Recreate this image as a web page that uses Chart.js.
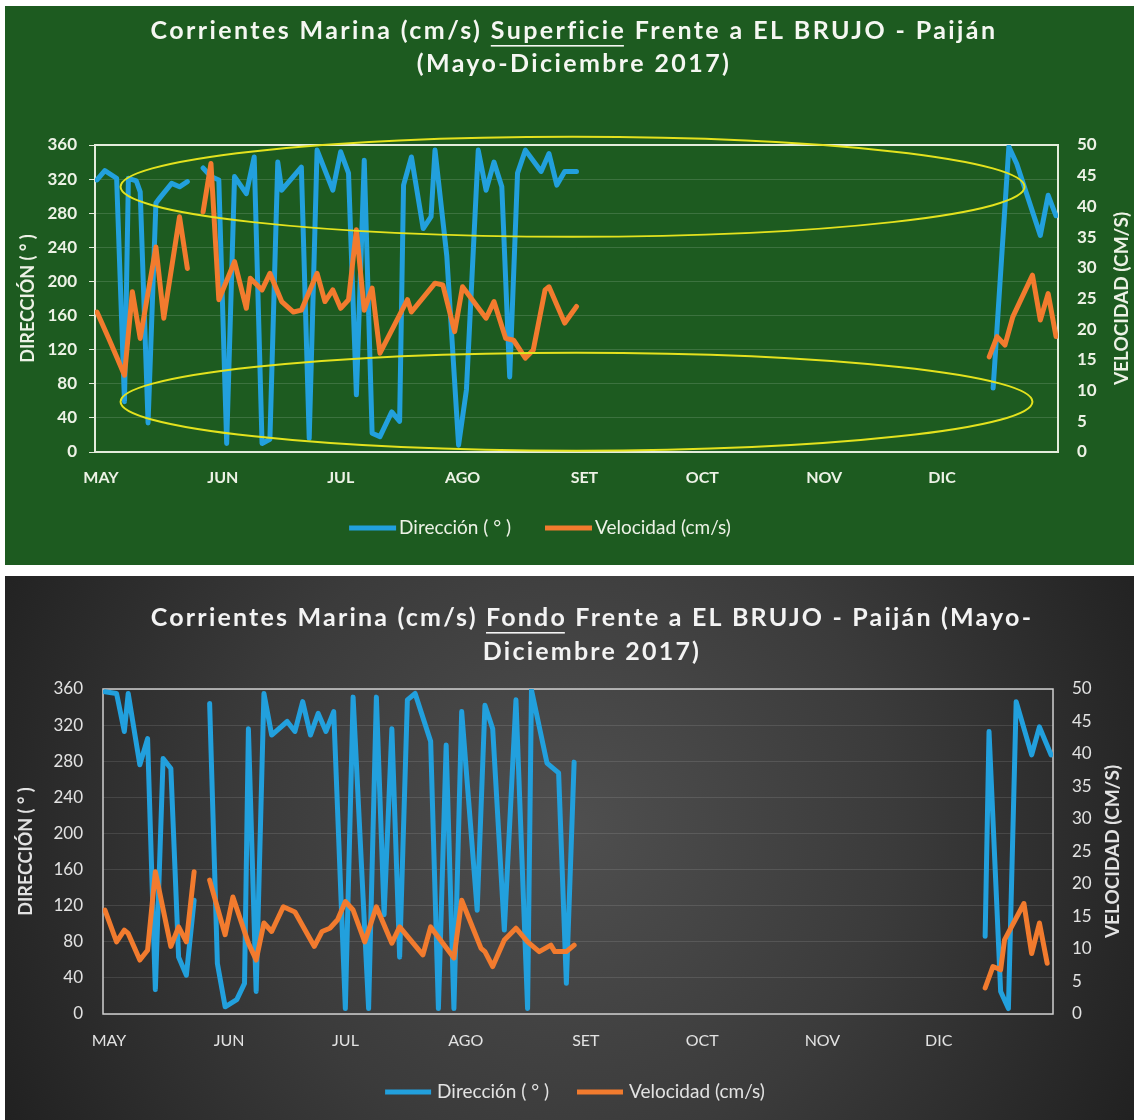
<!DOCTYPE html>
<html>
<head>
<meta charset="utf-8">
<script src="https://cdn.jsdelivr.net/npm/chart.js@4.4.1/dist/chart.umd.min.js"></script>
<style>
  html, body { margin: 0; padding: 0; background: #ffffff; }
  body { width: 1134px; height: 1120px; position: relative; overflow: hidden; }
  .panel { position: absolute; left: 5px; }
  #panelTop { top: 6px; }
  #panelBottom { top: 576px; }
  canvas { display: block; }
</style>
</head>
<body>
<div class="panel" id="panelTop"><canvas id="chartSurface" width="1129" height="559"></canvas></div>
<div class="panel" id="panelBottom"><canvas id="chartBottom" width="1129" height="544"></canvas></div>
<script>
// Month axis: day 0 = 1 May 2017
const months = ['MAY', 'JUN', 'JUL', 'AGO', 'SET', 'OCT', 'NOV', 'DIC'];
const monthStartDays = [0, 31, 61, 92, 123, 153, 184, 214];

// Surface currents (Superficie) — direction in degrees
const surfDirDays = [0,2,5,7,8,10,11,13,15,16,19,21,23, 25,
  27,29,31,33,35,38,40,42,44,46,47,52,54,56,60,62,64,66,68,70,72,75,77,78,80,83,85,86,89,92,94,97,99,101,103,105,107,109,113,115,117,119,122,
  200, 228,232,234,240,242,244];
const surfDirVals = [319,330,321,59,321,318,305,34,292,298,315,311,317, null,
  333,323,319,10,323,303,346,10,15,340,307,334,16,354,307,352,327,67,342,22,18,47,36,313,346,262,276,354,230,8,73,354,307,340,311,88,327,354,329,350,313,329,329,
  null, 75,358,338,254,301,277];

// Surface currents — speed in cm/s
const surfVelDays = [0,3,5,7,9,11,15,17,21,23, 25,
  27,29,31,35,38,39,42,44,47,50,52,56,58,60,62,64,66,68,70,72,79,80,86,88,91,93,99,101,104,106,109,111,114,115,119,122,
  200, 227,229,231,233,238,240,242,244];
const surfVelVals = [22.8,18.5,15.5,12.5,26.1,18.5,33.4,21.8,38.3,29.9, null,
  39.1,47.0,24.8,31.0,23.4,28.3,26.4,29.1,24.5,22.8,23.1,29.1,24.5,26.4,23.4,24.8,36.2,23.1,26.7,16.1,24.8,22.8,27.5,27.2,19.6,26.9,21.8,24.5,18.5,18.2,15.3,16.6,26.4,26.9,21.0,23.7,
  null, 15.5,18.8,17.4,22.0,28.8,21.5,25.8,18.8];

// Bottom currents (Fondo) — direction in degrees
const bottomDirDays = [0,3,5,6,9,11,13,15,17,19,21,23, 25,
  27,29,31,34,36,37,39,41,43,47,49,51,53,55,57,59,62,64,68,70,72,74,76,78,80,84,86,88,90,92,96,98,100,103,106,109,110,114,117,119,121,
  200, 227,228,231,233,235,239,241,244];
const bottomDirVals = [357,355,313,355,276,305,27,283,272,63,43,126, null,
  344,56,8,16,34,316,25,355,309,324,313,346,309,333,313,335,6,351,6,351,110,316,63,348,355,302,6,298,6,335,115,342,316,93,348,6,359,278,267,34,279,
  null, 86,313,25,6,346,287,318,287];

// Bottom currents — speed in cm/s
const bottomVelDays = [0,3,5,6,9,11,13,17,19,21,23, 25,
  27,31,33,37,39,41,43,46,49,54,56,58,60,62,64,67,70,74,76,82,84,90,92,97,98,100,103,106,109,112,115,116,119,121,
  200, 227,229,231,232,237,239,241,243];
const bottomVelVals = [16,11.1,12.9,12.4,8.3,9.8,21.9,10.4,13.4,11.1,21.9, null,
  20.6,12.2,18,10.9,8.3,14,12.7,16.5,15.7,10.4,12.7,13.2,14.5,17.3,16,11.1,16.5,10.9,13.4,9.1,13.4,8.6,17.5,10.1,9.6,7.3,11.4,13.2,11.1,9.6,10.6,9.6,9.6,10.6,
  null, 4,7.3,6.8,11.4,17,9.3,14,7.8];

const BLUE = '#22a0dd';
const ORANGE = '#f27b2e';
const FONT = 'Lato, "Open Sans", "DejaVu Sans", sans-serif';

function series(days, vals) {
  return days.map((d, i) => ({ x: d, y: vals[i] }));
}

// Panel decoration: background, plot frame, highlight ellipses, titles, right axis title, legend
const decor = {
  id: 'decor',
  beforeDraw(chart, args, o) {
    const { ctx, width, height } = chart;
    ctx.save();
    if (o.gradient) {
      const g = o.gradient;
      const grad = ctx.createRadialGradient(g.cx, g.cy, 0, g.cx, g.cy, g.r);
      g.stops.forEach(s => grad.addColorStop(s[0], s[1]));
      ctx.fillStyle = grad;
    } else {
      ctx.fillStyle = o.background;
    }
    ctx.fillRect(0, 0, width, height);
    ctx.restore();
  },
  beforeDatasetsDraw(chart, args, o) {
    const a = chart.chartArea, ctx = chart.ctx;
    ctx.save();
    ctx.strokeStyle = o.frameColor;
    ctx.lineWidth = o.frameWidth;
    ctx.strokeRect(a.left, a.top, a.right - a.left, a.bottom - a.top);
    ctx.restore();
  },
  afterDatasetsDraw(chart, args, o) {
    if (!o.ellipses) return;
    const ctx = chart.ctx, xs = chart.scales.x, ys = chart.scales.y;
    ctx.save();
    ctx.strokeStyle = o.ellipseColor;
    ctx.lineWidth = 2;
    o.ellipses.forEach(e => {
      const cx = xs.getPixelForValue(e.day), cy = ys.getPixelForValue(e.dir);
      const rx = Math.abs(xs.getPixelForValue(e.day + e.halfDays) - cx);
      const ry = Math.abs(ys.getPixelForValue(e.dir + e.halfDeg) - cy);
      ctx.beginPath();
      ctx.ellipse(cx, cy, rx, ry, 0, 0, Math.PI * 2);
      ctx.stroke();
    });
    ctx.restore();
  },
  afterDraw(chart, args, o) {
    const ctx = chart.ctx;
    ctx.save();
    // Title lines, with one underlined word
    const t = o.title;
    ctx.font = t.font;
    ctx.letterSpacing = t.spacing + 'px';
    ctx.fillStyle = t.color;
    ctx.textBaseline = 'middle';
    ctx.textAlign = 'left';
    t.lines.forEach(line => {
      const widths = line.parts.map(p => ctx.measureText(p.text).width);
      const total = widths.reduce((s, w) => s + w, 0);
      let x = t.cx - total / 2;
      line.parts.forEach((p, i) => {
        ctx.fillText(p.text, x, line.y);
        if (p.underline) ctx.fillRect(x, line.y + t.underlineOffset, widths[i] - t.spacing, 1.6);
        x += widths[i];
      });
    });
    ctx.letterSpacing = '0px';

    // Right axis title, reading bottom to top
    const r = o.rightTitle;
    const a = chart.chartArea;
    ctx.save();
    ctx.translate(r.x, (a.top + a.bottom) / 2);
    ctx.rotate(-Math.PI / 2);
    ctx.font = r.font;
    ctx.fillStyle = r.color;
    ctx.textAlign = 'center';
    ctx.textBaseline = 'middle';
    ctx.fillText(r.text, 0, 0);
    ctx.restore();

    // Legend
    const L = o.legend;
    ctx.font = L.font;
    ctx.textBaseline = 'middle';
    ctx.textAlign = 'left';
    const items = chart.data.datasets.map(ds => ({ label: ds.label, color: ds.borderColor, w: ctx.measureText(ds.label).width }));
    const totalW = items.reduce((s, it) => s + L.lineLen + L.textGap + it.w, 0) + L.itemGap * (items.length - 1);
    let lx = L.cx - totalW / 2;
    items.forEach(it => {
      ctx.strokeStyle = it.color;
      ctx.lineWidth = 5;
      ctx.beginPath();
      ctx.moveTo(lx, L.y);
      ctx.lineTo(lx + L.lineLen, L.y);
      ctx.stroke();
      ctx.fillStyle = L.color;
      ctx.fillText(it.label, lx + L.lineLen + L.textGap, L.y);
      lx += L.lineLen + L.textGap + it.w + L.itemGap;
    });
    ctx.restore();
  }
};

function buildChart(id, cfg) {
  return new Chart(document.getElementById(id), {
    type: 'line',
    data: {
      datasets: [
        { label: 'Dirección ( ° )', data: series(cfg.dirDays, cfg.dirVals), yAxisID: 'y',
          borderColor: BLUE, backgroundColor: BLUE, borderWidth: 5, order: 2 },
        { label: 'Velocidad (cm/s)', data: series(cfg.velDays, cfg.velVals), yAxisID: 'y2',
          borderColor: ORANGE, backgroundColor: ORANGE, borderWidth: 5, order: 1 }
      ]
    },
    options: {
      responsive: false,
      animation: false,
      events: [],
      devicePixelRatio: 1,
      spanGaps: false,
      layout: { padding: cfg.padding },
      elements: {
        point: { radius: 0, hoverRadius: 0 },
        line: { tension: 0, borderJoinStyle: 'round', borderCapStyle: 'round' }
      },
      plugins: {
        legend: { display: false },
        tooltip: { enabled: false },
        title: { display: false },
        decor: cfg.decor
      },
      scales: {
        x: {
          type: 'linear', min: -0.5, max: 244.5,
          afterBuildTicks: s => { s.ticks = monthStartDays.map(v => ({ value: v })); },
          ticks: {
            autoSkip: false, maxRotation: 0, labelOffset: 4, padding: cfg.xPad,
            color: cfg.tickColor, font: { family: FONT, size: 16, weight: cfg.tickWeight },
            callback: v => months[monthStartDays.indexOf(v)]
          },
          grid: { display: false },
          border: { display: false },
          afterFit: s => { s.height = 40; }
        },
        y: {
          position: 'left', min: 0, max: 360,
          ticks: { stepSize: 40, padding: cfg.yPad, color: cfg.tickColor,
                   font: { family: FONT, size: 17, weight: cfg.tickWeight } },
          grid: { color: cfg.gridColor, lineWidth: 1, drawTicks: cfg.yTickLen > 0,
                  tickLength: cfg.yTickLen, tickColor: cfg.frameColor },
          border: { display: false },
          title: { display: true, text: 'DIRECCIÓN ( ° )', color: cfg.tickColor,
                   font: { family: FONT, size: 18, weight: 'bold' }, padding: { top: 4, bottom: 0 } },
          afterFit: s => { s.width = cfg.yWidth; }
        },
        y2: {
          position: 'right', min: 0, max: 50,
          ticks: { stepSize: 5, padding: cfg.y2Pad, color: cfg.tickColor,
                   font: { family: FONT, size: 17, weight: cfg.tickWeight } },
          grid: { drawOnChartArea: false, drawTicks: false },
          border: { display: false },
          afterFit: s => { s.width = cfg.y2Width; }
        }
      }
    },
    plugins: [decor]
  });
}

// Surface panel
buildChart('chartSurface', {
  dirDays: surfDirDays, dirVals: surfDirVals, velDays: surfVelDays, velVals: surfVelVals,
  padding: { top: 139, left: 8, right: 0, bottom: 73 },
  yWidth: 82, y2Width: 76, yPad: 12, yTickLen: 6, y2Pad: 19, xPad: 8,
  tickColor: '#edf2e6', tickWeight: 'bold', gridColor: 'rgba(255,255,255,0.14)', frameColor: '#e4ecdc',
  decor: {
    background: '#1d5b20',
    frameColor: '#e4ecdc', frameWidth: 2,
    ellipseColor: '#e3e21e',
    ellipses: [
      { day: 121, dir: 311, halfDays: 115, halfDeg: 58.6 },
      { day: 122, dir: 59, halfDays: 116, halfDeg: 57.5 }
    ],
    title: {
      font: 'bold 25px ' + FONT, spacing: 2.4, color: '#f5f7f2', cx: 569, underlineOffset: 14,
      lines: [
        { y: 25, parts: [ { text: 'Corrientes Marina (cm/s) ' }, { text: 'Superficie', underline: true }, { text: ' Frente a EL BRUJO - Paiján' } ] },
        { y: 58, parts: [ { text: '(Mayo-Diciembre 2017)' } ] }
      ]
    },
    rightTitle: { text: 'VELOCIDAD (CM/S)', x: 1117, font: 'bold 19px ' + FONT, color: '#edf2e6' },
    legend: { cx: 535, y: 522, lineLen: 47, textGap: 3, itemGap: 34, font: '19px ' + FONT, color: '#edf2e6' }
  }
});

// Bottom panel
buildChart('chartBottom', {
  dirDays: bottomDirDays, dirVals: bottomDirVals, velDays: bottomVelDays, velVals: bottomVelVals,
  padding: { top: 113, left: 6, right: 0, bottom: 66 },
  yWidth: 92, y2Width: 81, yPad: 20, yTickLen: 0, y2Pad: 19, xPad: 9,
  tickColor: '#e2e2e2', tickWeight: 'normal', gridColor: 'rgba(255,255,255,0.11)', frameColor: '#cfcfcf',
  decor: {
    gradient: { cx: 565, cy: 250, r: 720, stops: [[0, '#4f4f4f'], [0.45, '#3b3b3b'], [1, '#1a1a1a']] },
    frameColor: '#cfcfcf', frameWidth: 1.5,
    title: {
      font: 'bold 25px ' + FONT, spacing: 2.2, color: '#f3f3f3', cx: 587, underlineOffset: 14,
      lines: [
        { y: 42, parts: [ { text: 'Corrientes Marina (cm/s) ' }, { text: 'Fondo', underline: true }, { text: ' Frente a EL BRUJO - Paiján (Mayo-' } ] },
        { y: 76, parts: [ { text: 'Diciembre 2017)' } ] }
      ]
    },
    rightTitle: { text: 'VELOCIDAD (CM/S)', x: 1108, font: 'bold 19px ' + FONT, color: '#e2e2e2' },
    legend: { cx: 570, y: 516, lineLen: 46, textGap: 6, itemGap: 28, font: '19px ' + FONT, color: '#e2e2e2' }
  }
});
</script>
</body>
</html>
